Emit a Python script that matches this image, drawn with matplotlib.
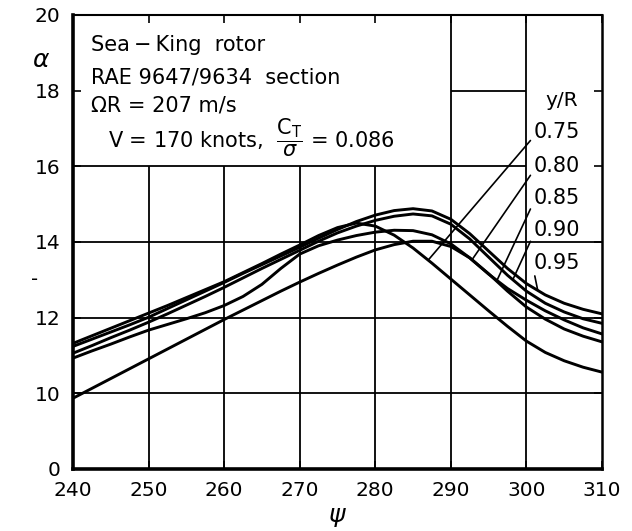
import matplotlib
matplotlib.use("Agg")
import matplotlib.pyplot as plt
import numpy as np

plt.rcParams["font.family"] = ["DejaVu Sans"]
plt.rcParams["mathtext.fontset"] = "dejavusans"

# azimuth, deg
psi = [240, 242.5, 245, 247.5, 250, 252.5, 255, 257.5, 260, 262.5, 265,
       267.5, 270, 272.5, 275, 277.5, 280, 282.5, 285, 287.5, 290, 292.5,
       295, 297.5, 300, 302.5, 305, 307.5, 310]

# incidence, deg, at each radial station
alpha_075 = [11.32, 11.52, 11.72, 11.92, 12.12, 12.32, 12.53, 12.74, 12.95,
             13.19, 13.43, 13.68, 13.92, 14.17, 14.38, 14.50, 14.42, 14.18,
             13.84, 13.44, 13.02, 12.60, 12.18, 11.77, 11.38, 11.08, 10.86,
             10.69, 10.56]
alpha_080 = [9.87, 10.13, 10.39, 10.65, 10.91, 11.17, 11.43, 11.69, 11.95,
             12.20, 12.45, 12.70, 12.94, 13.17, 13.39, 13.60, 13.79, 13.93,
             14.02, 14.02, 13.88, 13.58, 13.16, 12.70, 12.28, 11.96, 11.70,
             11.51, 11.36]
alpha_085 = [10.93, 11.12, 11.30, 11.49, 11.67, 11.82, 11.97, 12.13, 12.32,
             12.56, 12.88, 13.30, 13.68, 13.90, 14.05, 14.17, 14.26, 14.31,
             14.30, 14.19, 13.95, 13.58, 13.15, 12.77, 12.46, 12.18, 11.94,
             11.73, 11.57]
alpha_090 = [11.06, 11.26, 11.47, 11.67, 11.88, 12.10, 12.33, 12.56, 12.80,
             13.05, 13.30, 13.54, 13.78, 14.02, 14.24, 14.42, 14.57, 14.68,
             14.74, 14.69, 14.47, 14.08, 13.60, 13.12, 12.70, 12.38, 12.15,
             11.97, 11.85]
alpha_095 = [11.24, 11.43, 11.62, 11.81, 12.01, 12.24, 12.47, 12.70, 12.93,
             13.17, 13.40, 13.63, 13.86, 14.10, 14.33, 14.54, 14.71, 14.83,
             14.88, 14.82, 14.60, 14.22, 13.76, 13.30, 12.90, 12.60, 12.38,
             12.22, 12.10]

stations = ["0.75", "0.80", "0.85", "0.90", "0.95"]
curves = [alpha_075, alpha_080, alpha_085, alpha_090, alpha_095]
# where each leader meets its curve
leader_psi = [287.0, 292.8, 296.1, 298.2, 301.5]
label_y = [16.9, 16.0, 15.16, 14.31, 13.44]

x_ticks = [240, 250, 260, 270, 280, 290, 300, 310]
y_ticks = [8, 10, 12, 14, 16, 18, 20]
y_tick_labels = ["0", "10", "12", "14", "16", "18", "20"]   # broken axis: 0 then 10..20

fig = plt.figure(figsize=(6.32, 5.31), dpi=100)
ax = fig.add_axes([0.1155, 0.1168, 0.8370, 0.8550])
ax.set_xlim(240, 310)
ax.set_ylim(8, 20)

# grid, leaving the title block and the y/R column clear
gkw = dict(color="black", lw=1.3, zorder=1)
for xv in [250, 260, 270, 280]:
    ax.vlines(xv, 8, 16, **gkw)
for xv in [290, 300]:
    ax.vlines(xv, 8, 20, **gkw)
for yv in [10, 12, 14]:
    ax.hlines(yv, 240, 310, **gkw)
ax.hlines(16, 240, 300, **gkw)
ax.hlines(18, 290, 300, **gkw)

for a in curves:
    ax.plot(psi, a, color="black", lw=2.1, solid_joinstyle="round", zorder=3)

# title block
tkw = dict(fontsize=15, ha="left", va="center", color="black")
ax.text(242.4, 19.21, "Sea\u2009\u2212\u2009King  rotor", **tkw)
ax.text(242.4, 18.36, "RAE 9647/9634  section", **tkw)
ax.text(242.4, 17.62, "\u03a9R = 207 m/s", **tkw)
ax.text(244.6, 16.75, r"V = 170 knots,  $\dfrac{\mathrm{C_T}}{\sigma}$ = 0.086", **tkw)

# station labels with leaders
ax.text(302.5, 17.75, "y/R", fontsize=14.5, ha="left", va="center")
for name, a, lp, ly in zip(stations, curves, leader_psi, label_y):
    ax.annotate(name, xy=(lp, np.interp(lp, psi, a)), xytext=(300.9, ly),
                fontsize=15, ha="left", va="center",
                arrowprops=dict(arrowstyle="-", color="black", lw=1.2,
                                shrinkA=0, shrinkB=0, relpos=(0.0, 0.25)),
                zorder=4)

ax.set_xticks(x_ticks)
ax.set_yticks(y_ticks)
ax.set_yticklabels(y_tick_labels)
ax.tick_params(direction="in", length=6, width=1.2, labelsize=14.5,
               top=True, right=True, pad=9)
for side, w in [("left", 2.6), ("bottom", 2.6), ("top", 1.5), ("right", 1.8)]:
    ax.spines[side].set_linewidth(w)

ax.text(-0.072, 13, "-", transform=ax.get_yaxis_transform(), fontsize=14,
        ha="center", va="center")
ax.text(-0.06, 0.9, r"$\alpha$", transform=ax.transAxes, fontsize=18,
        ha="center", va="center")
ax.set_xlabel(r"$\psi$", fontsize=18, labelpad=3)

fig.savefig("out.png", dpi=100, facecolor="white")
